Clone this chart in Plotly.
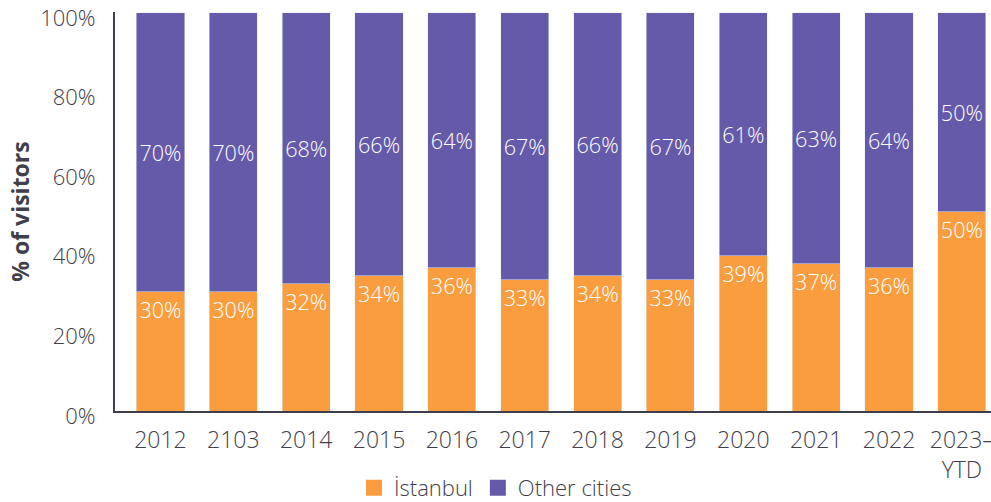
import plotly.graph_objects as go

# ---- data ----
years = ["2012", "2103", "2014", "2015", "2016", "2017", "2018", "2019",
         "2020", "2021", "2022", "2023–<br>YTD"]
istanbul = [30, 30, 32, 34, 36, 33, 34, 33, 39, 37, 36, 50]
other_cities = [70, 70, 68, 66, 64, 67, 66, 67, 61, 63, 64, 50]

ORANGE = "#F99D3F"
PURPLE = "#655AA9"
INK = "#3F3E4B"
FONT = "Open Sans"
LIGHT = dict(family=FONT, size=23, color=INK, weight=300)

fig = go.Figure()
fig.add_trace(go.Bar(
    x=years, y=istanbul, name="İstanbul", marker_color=ORANGE,
    text=[f"{v}%" for v in istanbul], textposition="inside",
    insidetextanchor="end", textangle=0, showlegend=False,
    textfont=dict(LIGHT, color="white"),
))
fig.add_trace(go.Bar(
    x=years, y=other_cities, name="Other cities", marker_color=PURPLE,
    text=[f"{v}%" for v in other_cities], textposition="inside",
    insidetextanchor="middle", textangle=0, showlegend=False,
    textfont=dict(LIGHT, color="white"),
))
# legend entries with bigger square swatches
for name, col in [("İstanbul", ORANGE), ("Other cities", PURPLE)]:
    fig.add_trace(go.Scatter(
        x=[None], y=[None], mode="markers", name=name,
        marker=dict(symbol="square", size=18, color=col),
    ))

fig.update_layout(
    barmode="stack",
    bargap=0.34,
    width=991, height=502,
    margin=dict(l=115, r=0, t=12, b=91),
    paper_bgcolor="white", plot_bgcolor="white",
    font=dict(family=FONT, color=INK, size=22),
    showlegend=True,
    legend=dict(orientation="h", x=0.5, xanchor="center", xref="container",
                y=0.028, yanchor="middle", yref="container",
                font=dict(family=FONT, size=22, color=INK, weight=300),
                itemsizing="trace", traceorder="normal", itemwidth=30),
)
fig.update_xaxes(
    range=[-0.624, 11.40], showgrid=False, showline=True, automargin=False,
    linecolor=INK, linewidth=2, ticks="", ticklabelstandoff=7,
    tickfont=LIGHT,
)
fig.update_yaxes(
    range=[0, 100.2], tickvals=[0, 20, 40, 60, 80, 100],
    ticktext=["0%", "20%", "40%", "60%", "80%", "100%"],
    showgrid=False, showline=True, linecolor=INK, linewidth=2,
    automargin=False, ticklabeloverflow="allow",
    ticks="", ticklabelstandoff=13, ticklabelshift=5,
    tickfont=dict(LIGHT, size=22),
    zeroline=False,
    title=dict(text="<b>% of visitors</b>", standoff=4,
               font=dict(family=FONT, size=23, color=INK)),
)

# drop the page's default body margin so the figure sits at the window corner
fig.write_html("out.html", config={"displayModeBar": False},
               post_script="document.body.style.margin='0px';")
